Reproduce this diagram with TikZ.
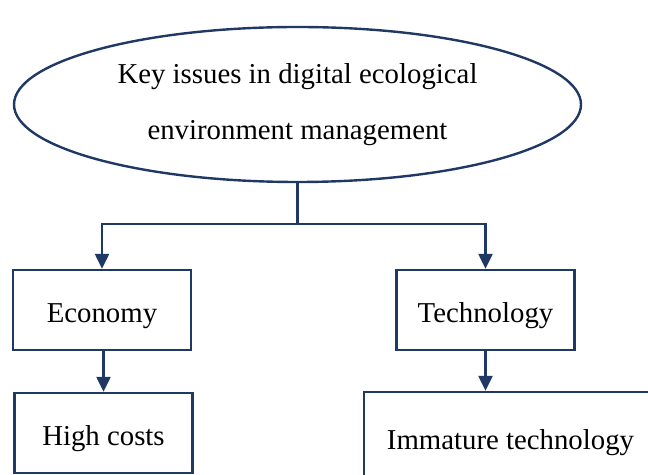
\documentclass[tikz,border=0pt]{standalone}
\usepackage{fontspec}
\setmainfont{Liberation Serif}
\usetikzlibrary{shapes.geometric,arrows.meta}

\definecolor{navy}{HTML}{1F3864}

\tikzset{
    issue/.style={draw=navy, line width=1.2pt, ellipse, inner sep=0pt,
        minimum width=283.5pt, minimum height=77.5pt, align=center},
    box/.style={draw=navy, line width=1.2pt, rectangle, inner sep=0pt,
        minimum width=89pt, minimum height=40pt,
        text height=12.5pt, text depth=0pt},
    link/.style={draw=navy, line width=1.2pt},
    arrow/.style={link, -{Triangle[length=7.5pt,width=7pt]}}
}

\begin{document}
\begin{tikzpicture}[x=0.5pt, y=-0.5pt]
    \fontsize{14.4}{28}\selectfont
    \useasboundingbox (0, 0) rectangle (648, 475);

    % top
    \node [issue] (key) at (297.5, 104.5)
        {Key issues in digital ecological\\environment management};
    \coordinate (split) at (297.5, 224);

    % second level
    \node [box] (eco) at (102, 310){Economy};
    \node [box] (tech) at (485.5, 310){Technology};

    % third level
    \node [box] (cost) at (103.5, 433){High costs};
    \node [box, minimum width=146.5pt, minimum height=45pt] (immature)
        at (510.5, 437){Immature technology};

    \draw [link]  (key.south) -- (split);
    \draw [arrow] (split) -| (eco.north);
    \draw [arrow] (split) -| (tech.north);
    \draw [arrow] (eco.south -| cost.north) -- (cost.north);
    \draw [arrow] (tech.south) -- (tech.south |- immature.north);
\end{tikzpicture}
\end{document}
